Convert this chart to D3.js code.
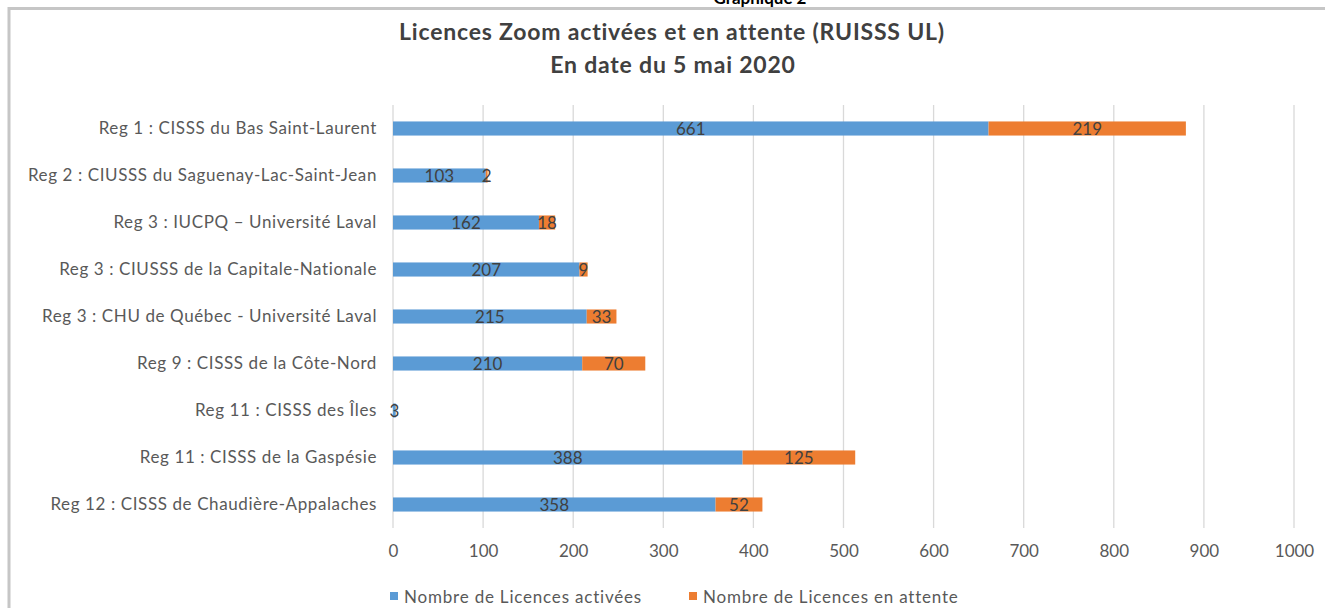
<!DOCTYPE html>
<html><head><meta charset="utf-8">
<script src="https://cdn.jsdelivr.net/npm/d3@7"></script>
<style>body{margin:0;background:#fff;} svg{display:block;font-family:Lato, "Open Sans", sans-serif;}</style>
</head><body>
<svg id="chart" width="1325" height="608"></svg>
<script>
const categories = [
  "Reg 1 : CISSS du Bas Saint-Laurent",
  "Reg 2 : CIUSSS du Saguenay-Lac-Saint-Jean",
  "Reg 3 : IUCPQ – Université Laval",
  "Reg 3 : CIUSSS de la Capitale-Nationale",
  "Reg 3 : CHU de Québec - Université Laval",
  "Reg 9 : CISSS de la Côte-Nord",
  "Reg 11 : CISSS des Îles",
  "Reg 11 : CISSS de la Gaspésie",
  "Reg 12 : CISSS de Chaudière-Appalaches"
];
const activees = [661, 103, 162, 207, 215, 210, 3, 388, 358];
const enAttente = [219, 2, 18, 9, 33, 70, 0, 125, 52];
const xTicks = [0,100,200,300,400,500,600,700,800,900,1000];
const seriesNames = ["Nombre de Licences activées", "Nombre de Licences en attente"];
const colors = ["#5B9BD5", "#ED7D31"];

const svg = d3.select("#chart");
// frame
svg.append("rect").attr("x",9).attr("y",8.5).attr("width",1400).attr("height",700)
  .attr("fill","#fff").attr("stroke","#c6c6c6").attr("stroke-width",3);
svg.append("text").attr("x",760).attr("y",4).attr("text-anchor","middle")
  .attr("font-weight","bold").attr("font-size",17).attr("fill","#000").text("Graphique 2");
svg.append("text").attr("x",672).attr("y",40).attr("text-anchor","middle")
  .attr("font-weight","bold").attr("font-size",23).attr("letter-spacing",0.8).attr("fill","#404040")
  .text("Licences Zoom activées et en attente (RUISSS UL)");
svg.append("text").attr("x",673).attr("y",73).attr("text-anchor","middle")
  .attr("font-weight","bold").attr("font-size",23).attr("letter-spacing",0.8).attr("fill","#404040")
  .text("En date du 5 mai 2020");

const x = d3.scaleLinear().domain([0,1000]).range([393,1294]);
const y = d3.scaleBand().domain(categories).range([105,528]).paddingInner(0.7).paddingOuter(0.35);

// grid
svg.append("g").selectAll("line").data(xTicks).join("line")
  .attr("x1",d=>x(d)).attr("x2",d=>x(d)).attr("y1",105).attr("y2",528)
  .attr("stroke","#d9d9d9").attr("stroke-width",1.3);

// axes tick labels
const xAxis = d3.axisBottom(x).tickValues(xTicks).tickFormat(d3.format("d")).tickSize(0).tickPadding(0);
const ga = svg.append("g").attr("transform","translate(0,557)").call(xAxis);
ga.select(".domain").remove();
ga.selectAll("text").attr("font-size",17).attr("fill","#595959").attr("font-family","Lato, sans-serif").attr("dy","0");

const yAxis = d3.axisLeft(y).tickSize(0).tickPadding(0);
const gy = svg.append("g").attr("transform","translate(377,0)").call(yAxis);
gy.select(".domain").remove();
gy.selectAll("text").attr("font-size",17).attr("letter-spacing",0.6).attr("fill","#595959").attr("font-family","Lato, sans-serif").attr("dy","0.35em");

const rows = categories.map((c,i)=>({c, a:activees[i], p:enAttente[i]}));
const g = svg.append("g");
g.selectAll("rect.a").data(rows).join("rect").attr("class","a")
  .attr("x",x(0)).attr("y",d=>y(d.c)).attr("width",d=>x(d.a)-x(0)).attr("height",y.bandwidth()).attr("fill",colors[0]);
g.selectAll("rect.p").data(rows).join("rect").attr("class","p")
  .attr("x",d=>x(d.a)).attr("y",d=>y(d.c)).attr("width",d=>x(d.a+d.p)-x(d.a)).attr("height",y.bandwidth()).attr("fill",colors[1]);

const lab = svg.append("g").attr("font-size",17).attr("fill","#404040").attr("text-anchor","middle");
lab.selectAll("text.a").data(rows.filter(d=>d.a>0)).join("text")
  .attr("x",d=>(x(0)+x(d.a))/2).attr("y",d=>y(d.c)+y.bandwidth()/2).attr("dy","0.36em").text(d=>d.a);
lab.selectAll("text.p").data(rows.filter(d=>d.p>0)).join("text")
  .attr("x",d=>(x(d.a)+x(d.a+d.p))/2).attr("y",d=>y(d.c)+y.bandwidth()/2).attr("dy","0.36em").text(d=>d.p);

// legend
const leg = svg.append("g");
const legX = [390, 689];
seriesNames.forEach((n,i)=>{
  leg.append("rect").attr("x",legX[i]).attr("y",592).attr("width",8).attr("height",8).attr("fill",colors[i]);
  leg.append("text").attr("x",legX[i]+14).attr("y",603).attr("font-size",17).attr("letter-spacing",0.8).attr("fill","#595959").text(n);
});
</script>
</body></html>
